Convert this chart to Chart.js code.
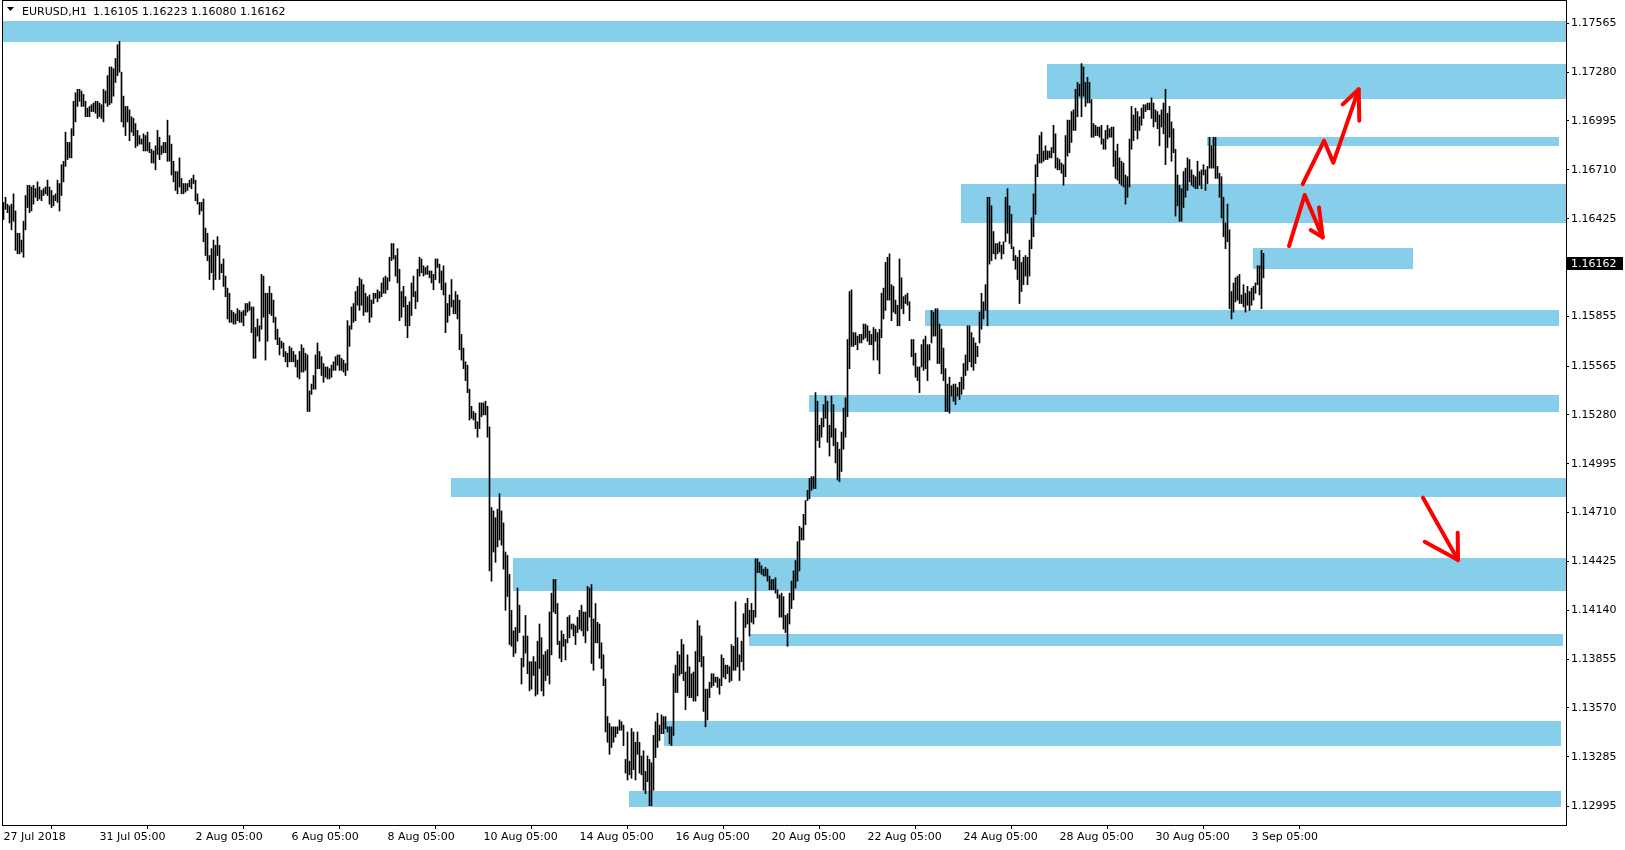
<!DOCTYPE html>
<html>
<head>
<meta charset="utf-8">
<title>EURUSD,H1</title>
<script src="https://cdn.jsdelivr.net/npm/chart.js@4.4.0/dist/chart.umd.min.js"></script>
<style>
  html, body { margin: 0; padding: 0; background: #fff; }
  canvas { display: block; }
</style>
</head>
<body>
<canvas id="chart" width="1625" height="850"></canvas>
<script>
// EURUSD H1 bars, 27 Jul 2018 05:00 -> 3 Sep 2018 11:00 (one value per hourly bar)
var highs = [
  1.1652,1.1655,1.1651,1.1650,1.1651,1.1657,1.1647,1.1634,1.1634,1.1630,
  1.1641,1.1656,1.1662,1.1662,1.1661,1.1662,1.1660,1.1664,1.1661,1.1659,
  1.1660,1.1661,1.1665,1.1661,1.1659,1.1656,1.1657,1.1665,1.1663,1.1674,
  1.1676,1.1693,1.1687,1.1687,1.1695,1.1711,1.1716,1.1718,1.1718,1.1717,
  1.1715,1.1711,1.1707,1.1708,1.1709,1.1710,1.1711,1.1711,1.1710,1.1709,
  1.1718,1.1717,1.1726,1.1731,1.1731,1.1730,1.1736,1.1744,1.1746,1.1728,
  1.1714,1.1708,1.1708,1.1706,1.1702,1.1701,1.1698,1.1694,1.1691,1.1689,
  1.1692,1.1691,1.1693,1.1687,1.1683,1.1682,1.1685,1.1694,1.1690,1.1685,
  1.1687,1.1687,1.1700,1.1691,1.1686,1.1676,1.1670,1.1670,1.1678,1.1666,
  1.1663,1.1663,1.1663,1.1665,1.1666,1.1668,1.1665,1.1657,1.1652,1.1652,
  1.1654,1.1637,1.1634,1.1621,1.1625,1.1630,1.1627,1.1632,1.1627,1.1616,
  1.1619,1.1609,1.1602,1.1599,1.1589,1.1588,1.1587,1.1590,1.1589,1.1588,
  1.1589,1.1593,1.1593,1.1594,1.1591,1.1591,1.1579,1.1584,1.1580,1.1610,
  1.1609,1.1599,1.1599,1.1603,1.1599,1.1595,1.1585,1.1578,1.1573,1.1571,
  1.1570,1.1565,1.1564,1.1568,1.1567,1.1565,1.1563,1.1560,1.1565,1.1569,
  1.1567,1.1564,1.1563,1.1542,1.1546,1.1551,1.1563,1.1570,1.1565,1.1562,
  1.1558,1.1556,1.1556,1.1555,1.1557,1.1559,1.1562,1.1563,1.1563,1.1561,
  1.1560,1.1558,1.1583,1.1580,1.1591,1.1593,1.1600,1.1603,1.1608,1.1607,
  1.1604,1.1599,1.1597,1.1598,1.1595,1.1599,1.1599,1.1601,1.1600,1.1605,
  1.1608,1.1609,1.1608,1.1620,1.1628,1.1628,1.1621,1.1625,1.1613,1.1600,
  1.1603,1.1597,1.1592,1.1594,1.1605,1.1609,1.1600,1.1613,1.1620,1.1619,
  1.1615,1.1614,1.1615,1.1612,1.1612,1.1610,1.1619,1.1619,1.1616,1.1612,
  1.1615,1.1605,1.1593,1.1598,1.1607,1.1595,1.1600,1.1598,1.1595,1.1575,
  1.1567,1.1559,1.1557,1.1543,1.1533,1.1530,1.1529,1.1524,1.1535,1.1535,
  1.1535,1.1536,1.1533,1.1521,1.1474,1.1472,1.1468,1.1473,1.1482,1.1472,
  1.1465,1.1448,1.1446,1.1435,1.1414,1.1402,1.1404,1.1427,1.1417,1.1386,
  1.1399,1.1411,1.1399,1.1384,1.1384,1.1387,1.1384,1.1396,1.1406,1.1398,
  1.1388,1.1390,1.1391,1.1413,1.1424,1.1432,1.1432,1.1418,1.1396,1.1402,
  1.1400,1.1397,1.1410,1.1411,1.1406,1.1406,1.1405,1.1410,1.1414,1.1417,
  1.1413,1.1413,1.1428,1.1427,1.1429,1.1409,1.1418,1.1407,1.1406,1.1395,
  1.1388,1.1374,1.1352,1.1348,1.1346,1.1346,1.1346,1.1346,1.1350,1.1349,
  1.1347,1.1327,1.1343,1.1326,1.1345,1.1343,1.1337,1.1343,1.1337,1.1329,
  1.1332,1.1320,1.1329,1.1327,1.1325,1.1341,1.1349,1.1354,1.1347,1.1353,
  1.1352,1.1352,1.1346,1.1346,1.1346,1.1377,1.1382,1.1390,1.1388,1.1397,
  1.1394,1.1378,1.1388,1.1381,1.1377,1.1378,1.1390,1.1408,1.1405,1.1399,
  1.1387,1.1368,1.1368,1.1372,1.1377,1.1377,1.1375,1.1375,1.1374,1.1388,
  1.1386,1.1382,1.1382,1.1381,1.1394,1.1393,1.1419,1.1398,1.1388,1.1396,
  1.1412,1.1418,1.1421,1.1414,1.1418,1.1414,1.1444,1.1444,1.1442,1.1440,
  1.1438,1.1439,1.1438,1.1434,1.1432,1.1432,1.1433,1.1426,1.1423,1.1424,
  1.1422,1.1411,1.1412,1.1424,1.1431,1.1437,1.1443,1.1454,1.1463,1.1462,
  1.1470,1.1478,1.1484,1.1491,1.1492,1.1492,1.1541,1.1536,1.1522,1.1526,
  1.1534,1.1539,1.1536,1.1522,1.1539,1.1534,1.1520,1.1512,1.1508,1.1518,
  1.1532,1.1538,1.1572,1.1600,1.1601,1.1576,1.1576,1.1574,1.1575,1.1575,
  1.1581,1.1581,1.1580,1.1577,1.1575,1.1579,1.1578,1.1576,1.1578,1.1599,
  1.1602,1.1617,1.1620,1.1622,1.1604,1.1603,1.1595,1.1592,1.1619,1.1608,
  1.1597,1.1598,1.1599,1.1594,1.1572,1.1572,1.1564,1.1556,1.1556,1.1569,
  1.1572,1.1574,1.1569,1.1569,1.1589,1.1588,1.1590,1.1590,1.1581,1.1578,
  1.1567,1.1555,1.1546,1.1550,1.1545,1.1546,1.1546,1.1544,1.1547,1.1550,
  1.1558,1.1563,1.1580,1.1580,1.1576,1.1573,1.1570,1.1568,1.1588,1.1599,
  1.1594,1.1604,1.1655,1.1655,1.1650,1.1635,1.1628,1.1628,1.1629,1.1627,
  1.1629,1.1655,1.1660,1.1650,1.1645,1.1626,1.1621,1.1620,1.1624,1.1617,
  1.1620,1.1621,1.1620,1.1630,1.1643,1.1657,1.1674,1.1680,1.1691,1.1693,
  1.1682,1.1685,1.1682,1.1682,1.1684,1.1697,1.1692,1.1678,1.1677,1.1675,
  1.1674,1.1691,1.1700,1.1700,1.1705,1.1706,1.1718,1.1722,1.1721,1.1733,
  1.1731,1.1722,1.1725,1.1722,1.1712,1.1698,1.1697,1.1696,1.1696,1.1697,
  1.1689,1.1694,1.1697,1.1695,1.1696,1.1696,1.1682,1.1686,1.1678,1.1676,
  1.1675,1.1668,1.1667,1.1689,1.1708,1.1703,1.1707,1.1705,1.1702,1.1707,
  1.1709,1.1709,1.1710,1.1710,1.1713,1.1710,1.1706,1.1705,1.1703,1.1706,
  1.1710,1.1718,1.1704,1.1708,1.1699,1.1695,1.1683,1.1668,1.1662,1.1660,
  1.1670,1.1672,1.1678,1.1677,1.1671,1.1668,1.1667,1.1676,1.1670,1.1671,
  1.1674,1.1671,1.1673,1.1690,1.1685,1.1690,1.1690,1.1673,1.1669,1.1667,
  1.1655,1.1640,1.1651,1.1636,1.1600,1.1605,1.1608,1.1609,1.1610,1.1598,
  1.1604,1.1599,1.1603,1.1600,1.1602,1.1603,1.1605,1.1615,1.1615,1.1624,
  1.16223
];
var lows = [
  1.1642,1.1648,1.1646,1.1640,1.1636,1.1641,1.1624,1.1622,1.1622,1.1623,
  1.1620,1.1636,1.1649,1.1646,1.1647,1.1651,1.1655,1.1653,1.1654,1.1653,
  1.1656,1.1657,1.1656,1.1651,1.1649,1.1650,1.1653,1.1652,1.1647,1.1656,
  1.1664,1.1673,1.1677,1.1678,1.1678,1.1691,1.1699,1.1708,1.1711,1.1708,
  1.1708,1.1702,1.1702,1.1702,1.1705,1.1705,1.1704,1.1701,1.1702,1.1701,
  1.1699,1.1710,1.1708,1.1709,1.1710,1.1714,1.1722,1.1726,1.1728,1.1699,
  1.1696,1.1691,1.1699,1.1688,1.1693,1.1691,1.1684,1.1685,1.1686,1.1686,
  1.1682,1.1682,1.1682,1.1681,1.1675,1.1675,1.1671,1.1680,1.1677,1.1680,
  1.1681,1.1681,1.1676,1.1676,1.1668,1.1664,1.1659,1.1657,1.1661,1.1657,
  1.1657,1.1658,1.1659,1.1661,1.1660,1.1663,1.1653,1.1651,1.1645,1.1647,
  1.1629,1.1621,1.1618,1.1607,1.1611,1.1601,1.1607,1.1621,1.1607,1.1611,
  1.1603,1.1597,1.1584,1.1582,1.1582,1.1581,1.1581,1.1583,1.1582,1.1582,
  1.1580,1.1586,1.1588,1.1589,1.1576,1.1561,1.1561,1.1574,1.1571,1.1578,
  1.1585,1.1560,1.1571,1.1587,1.1586,1.1582,1.1572,1.1569,1.1563,1.1567,
  1.1562,1.1559,1.1556,1.1559,1.1559,1.1559,1.1556,1.1550,1.1549,1.1553,
  1.1553,1.1554,1.1530,1.1530,1.1540,1.1543,1.1543,1.1555,1.1555,1.1551,
  1.1547,1.1550,1.1549,1.1549,1.1550,1.1554,1.1554,1.1557,1.1554,1.1554,
  1.1553,1.1551,1.1554,1.1568,1.1578,1.1582,1.1583,1.1592,1.1589,1.1592,
  1.1586,1.1588,1.1588,1.1582,1.1585,1.1593,1.1596,1.1594,1.1596,1.1597,
  1.1599,1.1599,1.1601,1.1606,1.1618,1.1619,1.1609,1.1605,1.1583,1.1585,
  1.1591,1.1580,1.1573,1.1580,1.1586,1.1597,1.1590,1.1594,1.1609,1.1611,
  1.1609,1.1610,1.1610,1.1608,1.1605,1.1601,1.1607,1.1614,1.1605,1.1601,
  1.1598,1.1576,1.1582,1.1586,1.1591,1.1587,1.1587,1.1584,1.1566,1.1560,
  1.1555,1.1548,1.1541,1.1525,1.1526,1.1525,1.1520,1.1515,1.1520,1.1527,
  1.1528,1.1528,1.1515,1.1437,1.1431,1.1448,1.1442,1.1451,1.1455,1.1452,
  1.1438,1.1414,1.1422,1.1394,1.1393,1.1387,1.1389,1.1396,1.1401,1.1371,
  1.1381,1.1389,1.1377,1.1367,1.1368,1.1376,1.1364,1.1365,1.1380,1.1367,
  1.1364,1.1373,1.1376,1.1371,1.1388,1.1413,1.1412,1.1394,1.1386,1.1384,
  1.1393,1.1385,1.1395,1.1398,1.1403,1.1399,1.1394,1.1401,1.1403,1.1402,
  1.1399,1.1395,1.1402,1.1410,1.1383,1.1379,1.1395,1.1395,1.1386,1.1380,
  1.1370,1.1343,1.1337,1.1330,1.1334,1.1337,1.1340,1.1342,1.1344,1.1344,
  1.1335,1.1319,1.1315,1.1318,1.1316,1.1321,1.1315,1.1330,1.1319,1.1318,
  1.1309,1.1307,1.1314,1.1300,1.1300,1.1309,1.1328,1.1334,1.1338,1.1342,
  1.1342,1.1345,1.1343,1.1336,1.1335,1.1341,1.1366,1.1366,1.1376,1.1377,
  1.1373,1.1356,1.1364,1.1363,1.1363,1.1361,1.1361,1.1364,1.1384,1.1381,
  1.1355,1.1346,1.1350,1.1363,1.1369,1.1370,1.1372,1.1369,1.1365,1.1370,
  1.1375,1.1374,1.1377,1.1372,1.1373,1.1379,1.1379,1.1381,1.1373,1.1384,
  1.1379,1.1404,1.1406,1.1399,1.1407,1.1406,1.1410,1.1436,1.1436,1.1435,
  1.1434,1.1434,1.1431,1.1426,1.1426,1.1426,1.1424,1.1421,1.1410,1.1410,
  1.1403,1.1401,1.1393,1.1406,1.1415,1.1420,1.1427,1.1431,1.1437,1.1455,
  1.1455,1.1464,1.1478,1.1479,1.1484,1.1485,1.1485,1.1513,1.1509,1.1515,
  1.1521,1.1526,1.1512,1.1504,1.1515,1.1510,1.1500,1.1490,1.1489,1.1495,
  1.1508,1.1515,1.1527,1.1555,1.1568,1.1568,1.1569,1.1566,1.1570,1.1570,
  1.1572,1.1573,1.1571,1.1569,1.1569,1.1560,1.1571,1.1560,1.1552,1.1573,
  1.1584,1.1589,1.1595,1.1595,1.1583,1.1588,1.1587,1.1580,1.1580,1.1590,
  1.1587,1.1593,1.1592,1.1583,1.1562,1.1557,1.1550,1.1548,1.1541,1.1556,
  1.1554,1.1555,1.1548,1.1560,1.1570,1.1574,1.1574,1.1558,1.1558,1.1552,
  1.1548,1.1530,1.1530,1.1529,1.1539,1.1536,1.1534,1.1539,1.1537,1.1540,
  1.1543,1.1551,1.1554,1.1559,1.1556,1.1554,1.1558,1.1562,1.1570,1.1578,
  1.1584,1.1589,1.1580,1.1616,1.1618,1.1622,1.1619,1.1622,1.1623,1.1619,
  1.1622,1.1629,1.1634,1.1628,1.1625,1.1618,1.1613,1.1607,1.1593,1.1600,
  1.1604,1.1609,1.1604,1.1609,1.1625,1.1632,1.1645,1.1667,1.1675,1.1675,
  1.1676,1.1677,1.1677,1.1678,1.1678,1.1681,1.1672,1.1671,1.1671,1.1669,
  1.1662,1.1667,1.1679,1.1681,1.1687,1.1694,1.1694,1.1702,1.1714,1.1702,
  1.1714,1.1708,1.1710,1.1710,1.1690,1.1690,1.1691,1.1691,1.1690,1.1686,
  1.1683,1.1683,1.1689,1.1690,1.1690,1.1673,1.1666,1.1665,1.1663,1.1662,
  1.1661,1.1651,1.1655,1.1661,1.1683,1.1688,1.1694,1.1689,1.1694,1.1697,
  1.1701,1.1705,1.1706,1.1706,1.1701,1.1696,1.1699,1.1695,1.1685,1.1696,
  1.1692,1.1674,1.1684,1.1690,1.1676,1.1681,1.1644,1.1650,1.1641,1.1641,
  1.1649,1.1655,1.1659,1.1664,1.1662,1.1661,1.1660,1.1660,1.1662,1.1660,
  1.1668,1.1659,1.1663,1.1672,1.1672,1.1672,1.1666,1.1666,1.1655,1.1643,
  1.1632,1.1625,1.1629,1.1590,1.1584,1.1588,1.1594,1.1595,1.1593,1.1593,
  1.1591,1.1588,1.1592,1.1589,1.1592,1.1595,1.1599,1.1604,1.1598,1.1590,
  1.16080
];
var lastOHLC = [1.16105, 1.16223, 1.16080, 1.16162];

// axis labels
var xTickBars = [0, 48, 96, 144, 192, 240, 288, 336, 384, 432, 480, 528, 576, 624];
var xTickLabels = ['27 Jul 2018', '31 Jul 05:00', '2 Aug 05:00', '6 Aug 05:00', '8 Aug 05:00',
  '10 Aug 05:00', '14 Aug 05:00', '16 Aug 05:00', '20 Aug 05:00', '22 Aug 05:00',
  '24 Aug 05:00', '28 Aug 05:00', '30 Aug 05:00', '3 Sep 05:00'];
var yTickValues = [1.17565, 1.17280, 1.16995, 1.16710, 1.16425, 1.16140, 1.15855, 1.15565,
  1.15280, 1.14995, 1.14710, 1.14425, 1.14140, 1.13855, 1.13570, 1.13285, 1.12995];

// blue zones: first bar, last bar (null = chart edge), top and bottom price
var zoneFrom = [null, 521.75, 601.75, 478.75, 624.75, 460.75, 402.75, 223.75, 254.75, 372.75, 330.25, 312.75];
var zoneTo   = [null, null, 777.75, null, 704.75, 777.75, 777.75, null, null, 779.75, 778.75, 778.75];
var zoneHigh = [1.17578, 1.17328, 1.16901, 1.16627, 1.16254, 1.15891, 1.15395, 1.14912, 1.14447, 1.14002, 1.13494, 1.13085];
var zoneLow  = [1.17458, 1.17123, 1.16848, 1.16397, 1.16131, 1.15800, 1.15298, 1.14803, 1.14252, 1.13933, 1.13348, 1.12992];

// red hand drawn arrows, [bar, price] points
var arrowLines = [
  [[649.6, 1.16627], [660.3, 1.16880], [664.9, 1.16752], [677.6, 1.17180]],
  [[669.6, 1.17092], [677.6, 1.17180], [677.9, 1.16997]],
  [[642.75, 1.16265], [650.6, 1.16563], [659.6, 1.16316]],
  [[653.6, 1.16359], [659.6, 1.16316], [657.75, 1.16491]],
  [[709.75, 1.14797], [727.25, 1.14433]],
  [[710.6, 1.14540], [727.25, 1.14433], [727.1, 1.14593]]
];

var bars = highs.map(function(h, i) { return { x: i, y: [lows[i], h] }; });

Chart.defaults.font.family = 'DejaVu Sans';
Chart.defaults.font.size = 11;
Chart.defaults.color = '#000';

var drawings = {
  id: 'drawings',
  beforeDatasetsDraw: function(chart) {
    var ctx = chart.ctx, a = chart.chartArea, x = chart.scales.x, y = chart.scales.y;
    ctx.save();
    ctx.beginPath();
    ctx.rect(a.left, a.top, a.right - a.left, a.bottom - a.top);
    ctx.clip();
    ctx.fillStyle = '#87ceeb';
    for (var i = 0; i < zoneHigh.length; i++) {
      var x1 = zoneFrom[i] === null ? a.left : Math.round(x.getPixelForValue(zoneFrom[i]));
      var x2 = zoneTo[i] === null ? a.right : Math.round(x.getPixelForValue(zoneTo[i]));
      var y1 = Math.round(y.getPixelForValue(zoneHigh[i]));
      var y2 = Math.round(y.getPixelForValue(zoneLow[i]));
      ctx.fillRect(x1, y1, x2 - x1, y2 - y1);
    }
    ctx.restore();
  },
  afterDatasetsDraw: function(chart) {
    var ctx = chart.ctx, x = chart.scales.x, y = chart.scales.y;
    ctx.save();
    ctx.strokeStyle = '#ff0000';
    ctx.lineWidth = 4;
    ctx.lineCap = 'round';
    ctx.lineJoin = 'round';
    arrowLines.forEach(function(line) {
      ctx.beginPath();
      line.forEach(function(p, k) {
        var px = x.getPixelForValue(p[0]), py = y.getPixelForValue(p[1]);
        if (k === 0) ctx.moveTo(px, py); else ctx.lineTo(px, py);
      });
      ctx.stroke();
    });
    ctx.restore();
  },
  afterDraw: function(chart) {
    var ctx = chart.ctx, a = chart.chartArea, y = chart.scales.y;
    ctx.save();
    // frame top and left
    ctx.fillStyle = '#000';
    ctx.fillRect(a.left, 0, a.right - a.left, 1);
    ctx.fillRect(a.left, 0, 1, a.bottom);

    // header
    ctx.beginPath();
    ctx.moveTo(7, 7);
    ctx.lineTo(14, 7);
    ctx.lineTo(10.5, 11);
    ctx.closePath();
    ctx.fill();
    ctx.font = '11px DejaVu Sans';
    ctx.textBaseline = 'alphabetic';
    ctx.textAlign = 'left';
    ctx.fillText('EURUSD,H1', 22, 15);
    ctx.fillText(lastOHLC.map(function(v) { return v.toFixed(5); }).join(' '), 93, 15);

    // current price label
    var py = Math.round(y.getPixelForValue(lastOHLC[3]));
    ctx.fillStyle = '#000';
    ctx.fillRect(a.right + 1, py - 7, 56, 13);
    ctx.fillStyle = '#fff';
    ctx.textBaseline = 'middle';
    ctx.fillText(lastOHLC[3].toFixed(5), a.right + 5, py);
    ctx.restore();
  }
};

new Chart(document.getElementById('chart'), {
  type: 'bar',
  data: {
    datasets: [{
      data: bars,
      backgroundColor: '#000',
      borderWidth: 0,
      barThickness: 1,
      minBarLength: 1
    }]
  },
  options: {
    responsive: false,
    animation: false,
    devicePixelRatio: 1,
    layout: { padding: { left: 2, top: 0, right: 0, bottom: 0 } },
    plugins: { legend: { display: false }, tooltip: { enabled: false } },
    scales: {
      x: {
        type: 'linear',
        min: -0.75,
        max: 781.25,
        offset: false,
        grid: { drawOnChartArea: false, drawTicks: true, tickLength: 4, color: '#000' },
        border: { display: true, color: '#000', width: 1 },
        ticks: {
          autoSkip: false, maxRotation: 0, minRotation: 0, align: 'start', padding: 2,
          callback: function(v, i) { return xTickLabels[i]; }
        },
        afterBuildTicks: function(scale) {
          scale.ticks = xTickBars.map(function(v) { return { value: v }; });
        },
        afterFit: function(scale) {
          scale.height = 25;
          scale.paddingLeft = 0;
          scale.paddingRight = 0;
        }
      },
      y: {
        position: 'right',
        min: 1.128872,
        max: 1.17701,
        grid: { drawOnChartArea: false, drawTicks: true, tickLength: 3, color: '#000' },
        border: { display: true, color: '#000', width: 1 },
        ticks: {
          autoSkip: false, padding: 2,
          callback: function(v) { return v.toFixed(5); }
        },
        afterBuildTicks: function(scale) {
          scale.ticks = yTickValues.map(function(v) { return { value: v }; });
        },
        afterFit: function(scale) {
          scale.width = 59;
          scale.paddingTop = 0;
          scale.paddingBottom = 0;
        }
      }
    }
  },
  plugins: [drawings]
});
</script>
</body>
</html>
